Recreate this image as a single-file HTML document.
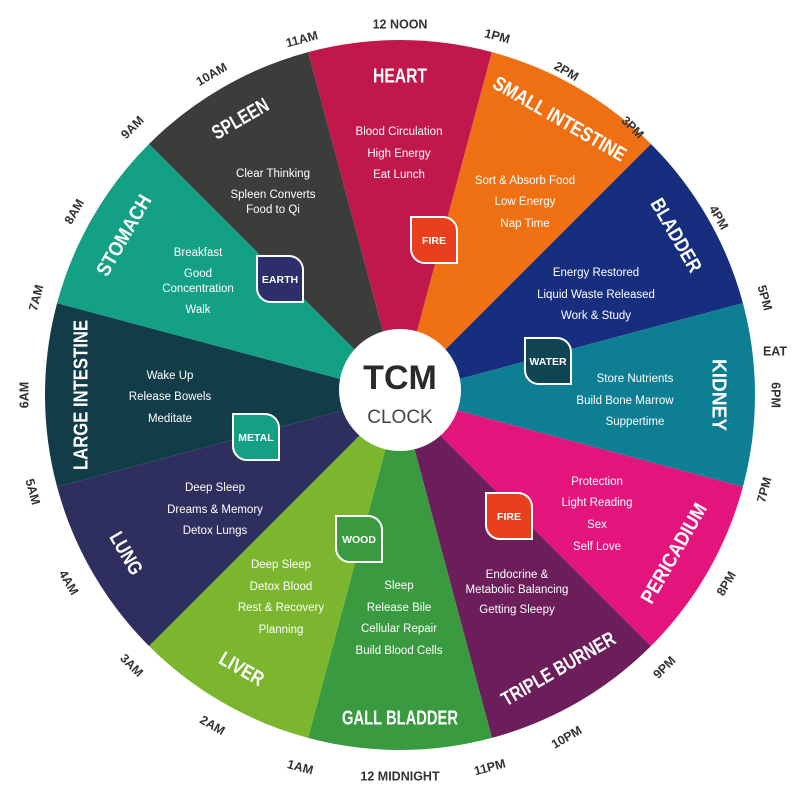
<!DOCTYPE html>
<html><head><meta charset="utf-8"><style>
html,body{margin:0;padding:0;background:#fff}
svg{display:block}
.t{font-family:"Liberation Sans",sans-serif;font-weight:bold;font-size:20px;fill:#fff;text-anchor:middle;dominant-baseline:middle}
.b{font-family:"Liberation Sans",sans-serif;font-size:11.5px;fill:#fff;text-anchor:middle;dominant-baseline:middle}
.h{font-family:"Liberation Sans",sans-serif;font-size:12.5px;fill:#333;text-anchor:middle;dominant-baseline:middle;font-weight:bold}
.e{font-family:"Liberation Sans",sans-serif;font-size:10.5px;fill:#fff;text-anchor:middle;dominant-baseline:middle;font-weight:bold}
</style></head><body>
<svg width="800" height="800" viewBox="0 0 800 800">
<g stroke="none">
<path d="M400 395L308.1 52.1A355 355 0 0 1 491.9 52.1Z" fill="#c0184a"/>
<path d="M400 395L491.9 52.1A355 355 0 0 1 651 144Z" fill="#ee7012"/>
<path d="M400 395L651 144A355 355 0 0 1 742.9 303.1Z" fill="#172e7e"/>
<path d="M400 395L742.9 303.1A355 355 0 0 1 742.9 486.9Z" fill="#0e7e93"/>
<path d="M400 395L742.9 486.9A355 355 0 0 1 651 646Z" fill="#e3157d"/>
<path d="M400 395L651 646A355 355 0 0 1 491.9 737.9Z" fill="#6b1e5a"/>
<path d="M400 395L491.9 737.9A355 355 0 0 1 308.1 737.9Z" fill="#3a9a3f"/>
<path d="M400 395L308.1 737.9A355 355 0 0 1 149 646Z" fill="#7cb62e"/>
<path d="M400 395L149 646A355 355 0 0 1 57.1 486.9Z" fill="#2e2f5e"/>
<path d="M400 395L57.1 486.9A355 355 0 0 1 57.1 303.1Z" fill="#123d48"/>
<path d="M400 395L57.1 303.1A355 355 0 0 1 149 144Z" fill="#13a085"/>
<path d="M400 395L149 144A355 355 0 0 1 308.1 52.1Z" fill="#3a3d3b"/>
</g>
<text class="t" transform="translate(400,77)" textLength="54" lengthAdjust="spacingAndGlyphs">HEART</text>
<text class="t" transform="translate(559,120) rotate(30)" textLength="150" lengthAdjust="spacingAndGlyphs">SMALL INTESTINE</text>
<text class="t" transform="translate(675,236) rotate(60)" textLength="82" lengthAdjust="spacingAndGlyphs">BLADDER</text>
<text class="t" transform="translate(718,395) rotate(90)" textLength="72" lengthAdjust="spacingAndGlyphs">KIDNEY</text>
<text class="t" transform="translate(675,554) rotate(-60)" textLength="112" lengthAdjust="spacingAndGlyphs">PERICADIUM</text>
<text class="t" transform="translate(559,670) rotate(-30)" textLength="128" lengthAdjust="spacingAndGlyphs">TRIPLE BURNER</text>
<text class="t" transform="translate(400,719)" textLength="116" lengthAdjust="spacingAndGlyphs">GALL BLADDER</text>
<text class="t" transform="translate(241,670) rotate(30)" textLength="48" lengthAdjust="spacingAndGlyphs">LIVER</text>
<text class="t" transform="translate(125,554) rotate(60)" textLength="46" lengthAdjust="spacingAndGlyphs">LUNG</text>
<text class="t" transform="translate(82,395) rotate(-90)" textLength="150" lengthAdjust="spacingAndGlyphs">LARGE INTESTINE</text>
<text class="t" transform="translate(125,236) rotate(-60)" textLength="90" lengthAdjust="spacingAndGlyphs">STOMACH</text>
<text class="t" transform="translate(241,120) rotate(-30)" textLength="62" lengthAdjust="spacingAndGlyphs">SPLEEN</text>
<g>
<text class="b" x="399" y="132">Blood Circulation</text><text class="b" x="399" y="154">High Energy</text><text class="b" x="399" y="175">Eat Lunch</text>
<text class="b" x="525" y="181">Sort &amp; Absorb Food</text><text class="b" x="525" y="202">Low Energy</text><text class="b" x="525" y="224">Nap Time</text>
<text class="b" x="596" y="273">Energy Restored</text><text class="b" x="596" y="295">Liquid Waste Released</text><text class="b" x="596" y="316">Work &amp; Study</text>
<text class="b" x="635" y="379">Store Nutrients</text><text class="b" x="625" y="401">Build Bone Marrow</text><text class="b" x="635" y="422">Suppertime</text>
<text class="b" x="597" y="482">Protection</text><text class="b" x="597" y="503">Light Reading</text><text class="b" x="597" y="525">Sex</text><text class="b" x="597" y="547">Self Love</text>
<text class="b" x="517" y="575">Endocrine &amp;</text><text class="b" x="517" y="590">Metabolic Balancing</text><text class="b" x="517" y="610">Getting Sleepy</text>
<text class="b" x="399" y="586">Sleep</text><text class="b" x="399" y="608">Release Bile</text><text class="b" x="399" y="629">Cellular Repair</text><text class="b" x="399" y="651">Build Blood Cells</text>
<text class="b" x="281" y="565">Deep Sleep</text><text class="b" x="281" y="587">Detox Blood</text><text class="b" x="281" y="608">Rest &amp; Recovery</text><text class="b" x="281" y="630">Planning</text>
<text class="b" x="215" y="488">Deep Sleep</text><text class="b" x="215" y="510">Dreams &amp; Memory</text><text class="b" x="215" y="531">Detox Lungs</text>
<text class="b" x="170" y="376">Wake Up</text><text class="b" x="170" y="397">Release Bowels</text><text class="b" x="170" y="419">Meditate</text>
<text class="b" x="198" y="253">Breakfast</text><text class="b" x="198" y="274">Good</text><text class="b" x="198" y="289">Concentration</text><text class="b" x="198" y="310">Walk</text>
<text class="b" x="273" y="174">Clear Thinking</text><text class="b" x="273" y="195">Spleen Converts</text><text class="b" x="273" y="210">Food to Qi</text>
</g>
<defs><path id="lf" d="M-23 -23H9A14 14 0 0 1 23 -9V23H-9A14 14 0 0 1 -23 9Z"/></defs>
<use href="#lf" x="280" y="279" fill="#2c2f6b" stroke="#fff" stroke-width="2"/><text class="e" x="280" y="280">EARTH</text>
<use href="#lf" x="434" y="240" fill="#e8401c" stroke="#fff" stroke-width="2"/><text class="e" x="434" y="241">FIRE</text>
<use href="#lf" x="548" y="361" fill="#0f4452" stroke="#fff" stroke-width="2"/><text class="e" x="548" y="362">WATER</text>
<use href="#lf" x="256" y="437" fill="#14a085" stroke="#fff" stroke-width="2"/><text class="e" x="256" y="438">METAL</text>
<use href="#lf" x="359" y="539" fill="#3a9a3f" stroke="#fff" stroke-width="2"/><text class="e" x="359" y="540">WOOD</text>
<use href="#lf" x="509" y="516" fill="#e8401c" stroke="#fff" stroke-width="2"/><text class="e" x="509" y="517">FIRE</text>
<circle cx="400" cy="390" r="61" fill="#fff"/>
<text x="400" y="389" text-anchor="middle" font-family="Liberation Sans,sans-serif" font-weight="bold" font-size="34" fill="#2a2a2a">TCM</text>
<text x="400" y="423" text-anchor="middle" font-family="Liberation Sans,sans-serif" font-size="19" fill="#444">CLOCK</text>
<text class="h" transform="translate(400,25)">12 NOON</text>
<text class="h" transform="translate(497,37) rotate(15)">1PM</text>
<text class="h" transform="translate(566,72) rotate(30)">2PM</text>
<text class="h" transform="translate(632,128) rotate(45)">3PM</text>
<text class="h" transform="translate(718,218) rotate(60)">4PM</text>
<text class="h" transform="translate(764,298) rotate(75)">5PM</text>
<text class="h" transform="translate(775,352)">EAT</text>
<text class="h" transform="translate(775,395) rotate(90)">6PM</text>
<text class="h" transform="translate(765,490) rotate(-75)">7PM</text>
<text class="h" transform="translate(727,584) rotate(-60)">8PM</text>
<text class="h" transform="translate(665,668) rotate(-45)">9PM</text>
<text class="h" transform="translate(567,738) rotate(-30)">10PM</text>
<text class="h" transform="translate(490,768) rotate(-15)">11PM</text>
<text class="h" transform="translate(400,777)">12 MIDNIGHT</text>
<text class="h" transform="translate(300,768) rotate(15)">1AM</text>
<text class="h" transform="translate(212,726) rotate(30)">2AM</text>
<text class="h" transform="translate(131,666) rotate(45)">3AM</text>
<text class="h" transform="translate(68,583) rotate(60)">4AM</text>
<text class="h" transform="translate(32,492) rotate(75)">5AM</text>
<text class="h" transform="translate(25,395) rotate(-90)">6AM</text>
<text class="h" transform="translate(37,298) rotate(-75)">7AM</text>
<text class="h" transform="translate(75,212) rotate(-60)">8AM</text>
<text class="h" transform="translate(133,128) rotate(-45)">9AM</text>
<text class="h" transform="translate(212,75) rotate(-30)">10AM</text>
<text class="h" transform="translate(302,40) rotate(-15)">11AM</text>
</svg>
</body></html>
